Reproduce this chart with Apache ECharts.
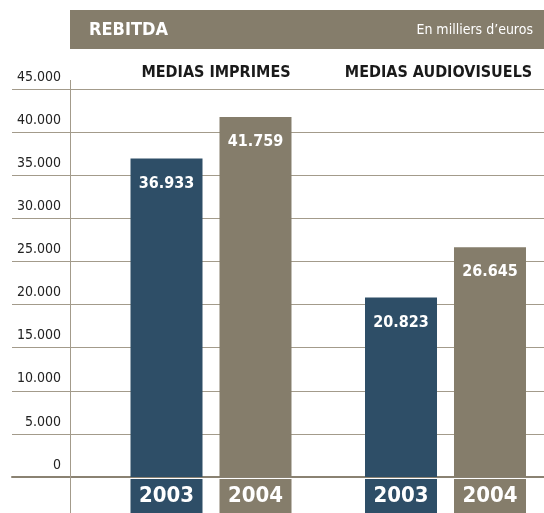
<!DOCTYPE html>
<html><head><meta charset="utf-8">
<script src="https://cdn.jsdelivr.net/npm/echarts@6/dist/echarts.min.js"></script>
<style>html,body{margin:0;padding:0;background:#fff}#c{width:544px;height:513px}</style>
</head><body><div id="c"></div>
<script>
const groups = ['MEDIAS IMPRIMES', 'MEDIAS AUDIOVISUELS'];
const years = ['2003', '2004'];
const values2003 = [36933, 20823];
const values2004 = [41759, 26645];
const yTicks = { min: 0, max: 45000, interval: 5000 };

const BLUE = '#2e4e67', TAUPE = '#857d6b';
const NARROW = "'Liberation Sans Narrow','DejaVu Sans Condensed',sans-serif";
const fmt = v => String(v).replace(/\B(?=(\d{3})+(?!\d))/g, '.');

const chart = echarts.init(document.getElementById('c'), null, {renderer: 'canvas'});
const yearBox = c => ({backgroundColor: c, width: 72, height: 34, align: 'center', verticalAlign: 'middle',
  color: '#fff', fontSize: 22, fontWeight: 'bold', fontFamily: NARROW, lineHeight: 34});
const valLabel = {show: true, position: 'insideTop', distance: 17, color: '#fff', fontSize: 16, fontWeight: 'bold',
  fontFamily: NARROW, formatter: p => fmt(p.value)};
const groupStyle = {color: '#1a1a1a', fontSize: 16, fontWeight: 'bold', fontFamily: NARROW};
chart.setOption({
  animation: false,
  graphic: [
    {type: 'rect', shape: {x: 70, y: 10, width: 474, height: 39}, style: {fill: TAUPE}, z: 0},
    {type: 'line', shape: {x1: 70.5, y1: 80, x2: 70.5, y2: 513}, style: {stroke: '#a39b8b', lineWidth: 1}, z: 1}
  ],
  title: [
    {text: 'REBITDA', left: 89, top: 21, padding: 0,
     textStyle: {color: '#fff', fontSize: 18, fontWeight: 'bold', fontFamily: NARROW}},
    {text: 'En milliers d\u2019euros', right: 11, top: 23, padding: 0,
     textStyle: {color: '#fff', fontSize: 14, fontWeight: 'normal', fontFamily: NARROW}}
  ],
  grid: [
    {left: 12, right: 0, top: 89, bottom: 36},
    {left: 211, width: 234.5, top: 89, bottom: 36}
  ],
  xAxis: [
    {gridIndex: 0, type: 'category', data: groups, axisLine: {lineStyle: {color: '#8a8272', width: 2}},
     axisTick: {show: false}, axisLabel: {show: false}, splitLine: {show: false}},
    {gridIndex: 1, type: 'category', data: groups, boundaryGap: false, position: 'bottom',
     axisLine: {show: false}, axisTick: {show: false}, splitLine: {show: false},
     axisLabel: {interval: 0, margin: 2,
       formatter: () => '{a|' + years[0] + '}{g|}{b|' + years[1] + '}',
       rich: {a: yearBox(BLUE), b: yearBox(TAUPE), g: {width: 17, height: 34}}}},
    {gridIndex: 1, type: 'category', data: groups, boundaryGap: false, position: 'top',
     axisLine: {show: false}, axisTick: {show: false}, splitLine: {show: false},
     axisLabel: {interval: 0, margin: 8,
       formatter: (v, i) => (i === 0 ? '{l|' : '{r|') + v + '}',
       rich: {l: Object.assign({padding: [0, 0, 0, 10]}, groupStyle),
              r: Object.assign({padding: [0, 14, 0, 0]}, groupStyle)}}}
  ],
  yAxis: [
    {gridIndex: 0, type: 'value', min: yTicks.min, max: yTicks.max, interval: yTicks.interval, offset: -58,
     axisLine: {show: false}, axisTick: {show: false},
     splitLine: {lineStyle: {color: '#a39b8b', width: 1}},
     axisLabel: {margin: 9, color: '#222', fontSize: 14, fontFamily: NARROW, verticalAlign: 'bottom',
       padding: [0, 0, 5, 0], formatter: v => v === 0 ? '0' : fmt(v)}},
    {gridIndex: 1, type: 'value', min: yTicks.min, max: yTicks.max, interval: yTicks.interval, show: false}
  ],
  series: [
    {name: years[0], type: 'bar', xAxisIndex: 1, yAxisIndex: 1, data: values2003, barWidth: 72, barGap: '23.6%',
     clip: false, itemStyle: {color: BLUE}, label: valLabel},
    {name: years[1], type: 'bar', xAxisIndex: 1, yAxisIndex: 1, data: values2004, barWidth: 72,
     clip: false, itemStyle: {color: TAUPE}, label: valLabel}
  ]
});
</script></body></html>
